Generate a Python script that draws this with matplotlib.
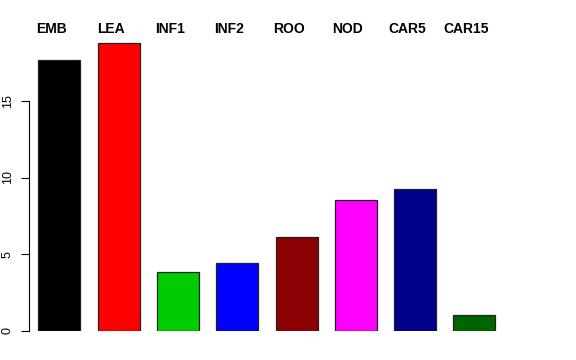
import matplotlib
matplotlib.use("Agg")
import matplotlib.pyplot as plt

plt.rcParams["font.family"] = ["Liberation Sans", "DejaVu Sans"]

CATEGORIES = ["EMB", "LEA", "INF1", "INF2", "ROO", "NOD", "CAR5", "CAR15"]
VALUES = [17.63, 18.76, 3.86, 4.41, 6.14, 8.53, 9.23, 1.06]
COLORS = ["#000000", "#ff0000", "#00cd00", "#0000ff",
          "#8b0000", "#ff00ff", "#00008b", "#006400"]
Y_TICKS = [0, 5, 10, 15]


def main() -> None:
    dpi = 100
    fig = plt.figure(figsize=(5.76, 3.6), dpi=dpi)

    # axes placed in pixel terms: left spine at x=29px, y=0 at 331px, y=20 at 24px
    px_unit = 59.3
    left_px, right_px = 29.3, 560.0
    top_px, bottom_px = 24.0, 331.0
    ax = fig.add_axes([
        left_px / 576, (360 - bottom_px) / 360,
        (right_px - left_px) / 576, (bottom_px - top_px) / 360,
    ])

    x = list(range(len(CATEGORIES)))
    x0 = -30.0 / px_unit
    ax.set_xlim(x0, x0 + (right_px - left_px) / px_unit)
    ax.set_ylim(0, 20)

    ax.bar(x, VALUES, width=42.0 / px_unit, color=COLORS,
           edgecolor="#222222", linewidth=0.9, zorder=2)

    for xi, name in zip(x, CATEGORIES):
        ax.text(xi - 8.0 / px_unit, 1 - 5.0 / 307, name,
                transform=ax.get_xaxis_transform(),
                ha="center", va="center", fontsize=10, fontweight="bold")

    for side in ["top", "right", "bottom"]:
        ax.spines[side].set_visible(False)
    ax.spines["left"].set_bounds(0, 15)
    ax.spines["left"].set_linewidth(0.8)
    ax.set_xticks([])
    ax.set_yticks(Y_TICKS)
    ax.set_yticklabels([str(t) for t in Y_TICKS], rotation=90, va="center")
    ax.tick_params(axis="y", length=5.8, width=0.8, pad=5.5, labelsize=9)

    fig.savefig("out.png", dpi=dpi)
    plt.close(fig)


if __name__ == "__main__":
    main()
